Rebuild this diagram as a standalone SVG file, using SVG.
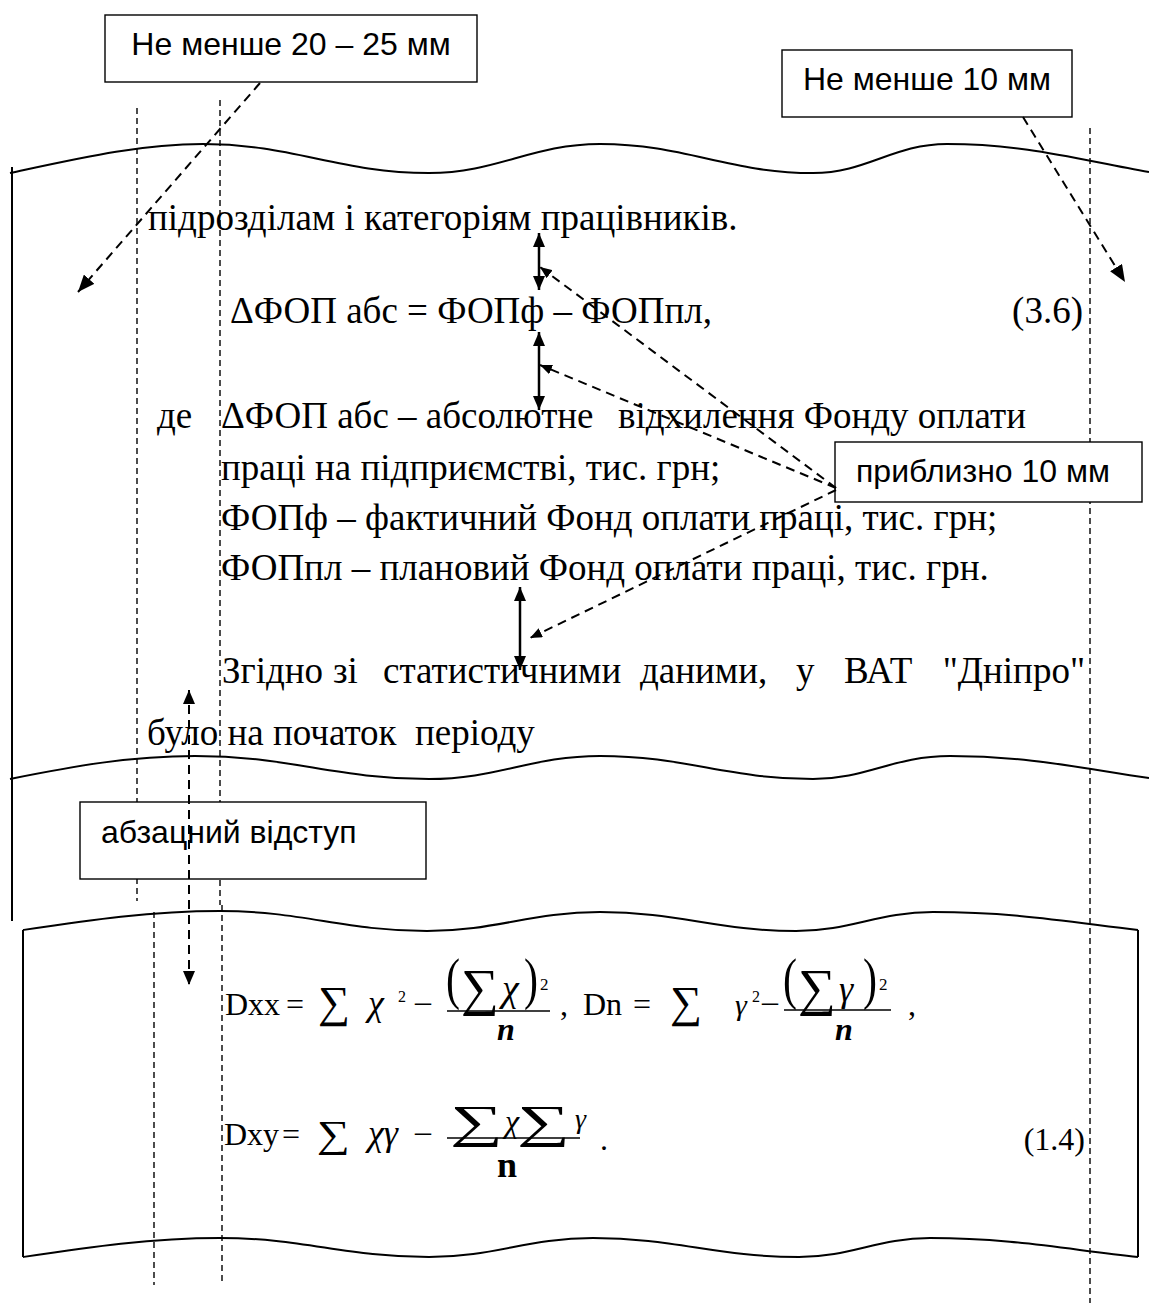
<svg xmlns="http://www.w3.org/2000/svg" width="1149" height="1308" viewBox="0 0 1149 1308">
<style>
.bg{fill:#fff}
.wave{fill:none;stroke:#000;stroke-width:2}
.edge{fill:none;stroke:#000;stroke-width:2}
.margin{fill:none;stroke:#000;stroke-width:1.4;stroke-dasharray:6 4}
.box{fill:#fff;stroke:#000;stroke-width:1.4}
.lbl{font-family:"Liberation Sans",Arial,sans-serif;font-size:32px;fill:#000}
.body{font-family:"Liberation Serif","Times New Roman",serif;font-size:37px;fill:#000}
.f{font-family:"Liberation Serif","Times New Roman",serif;fill:#000}
.it{font-style:italic}
.bd{font-weight:bold}
.dash{fill:none;stroke:#000;stroke-width:2;stroke-dasharray:9 6}
.solid{fill:none;stroke:#000;stroke-width:2.5}
.bar{stroke:#000;stroke-width:1.5}
</style>
<defs>
<marker id="ah" viewBox="0 0 14 12" refX="14" refY="6" markerWidth="14" markerHeight="12" markerUnits="userSpaceOnUse" orient="auto-start-reverse"><path d="M0,0 L14,6 L0,12 z" fill="#000"/></marker>
<marker id="ahs" viewBox="0 0 12 10" refX="12" refY="5" markerWidth="12" markerHeight="10" markerUnits="userSpaceOnUse" orient="auto-start-reverse"><path d="M0,0 L12,5 L0,10 z" fill="#000"/></marker>
<marker id="ahb" viewBox="0 0 17 14" refX="17" refY="7" markerWidth="17" markerHeight="14" markerUnits="userSpaceOnUse" orient="auto"><path d="M0,0 L17,7 L0,14 z" fill="#000"/></marker>
</defs>
<rect class="bg" x="0" y="0" width="1149" height="1308"/>

<g id="page-fragment-1">
<path class="wave" d="M10,173 C80,158 140,144 203,144 C293,144 339,173 429,173 C497,173 532,144 600,144 C685,144 728,173 813,173 C867,173 893,144 947,144 C1027,144 1080,160 1149,172"/>
<path class="wave" d="M10,779 C75,766 130,756 195,756 C290,756 335,779 429,779 C497,779 532,756 600,756 C685,756 728,779 813,779 C867,779 893,756 950,756 C1030,756 1085,769 1149,778"/>
<line class="edge" x1="12" y1="167" x2="12" y2="921"/>
</g>

<g id="page-fragment-2">
<path class="wave" d="M23,930 C90,920 150,911 220,911 C303,911 344,931 427,931 C496,931 531,912 600,912 C678,912 718,931 796,931 C851,931 878,912 933,912 C1015,912 1070,922 1138,930"/>
<path class="wave" d="M23,1257 C90,1247 150,1238 220,1238 C304,1238 345,1257 429,1257 C495,1257 527,1238 593,1238 C675,1238 717,1257 799,1257 C851,1257 878,1238 930,1238 C1013,1238 1070,1250 1138,1257"/>
<line class="edge" x1="23" y1="930" x2="23" y2="1257"/>
<line class="edge" x1="1138" y1="930" x2="1138" y2="1257"/>
</g>

<g id="margins">
<line class="margin" x1="137" y1="108" x2="137" y2="901"/>
<line class="margin" x1="154" y1="912" x2="154" y2="1285"/>
<line class="margin" x1="220" y1="100" x2="220" y2="905"/>
<line class="margin" x1="222" y1="905" x2="222" y2="1285"/>
<line class="margin" x1="1090" y1="128" x2="1090" y2="1303"/>
</g>

<g id="body-text">
<text class="body" x="148" y="230">підрозділам і категоріям працівників.</text>
<text class="body" x="230" y="323">ΔФОП абс = ФОПф – ФОПпл,</text>
<text class="body" x="1083" y="323" text-anchor="end">(3.6)</text>
<text class="body" x="157" y="428">де</text>
<text class="body" x="221" y="428">ΔФОП абс – абсолютне</text>
<text class="body" x="1026" y="428" text-anchor="end">відхилення Фонду оплати</text>
<text class="body" x="221" y="480">праці на підприємстві, тис. грн;</text>
<text class="body" x="221" y="530">ФОПф – фактичний Фонд оплати праці, тис. грн;</text>
<text class="body" x="221" y="580">ФОПпл – плановий Фонд оплати праці, тис. грн.</text>
<text class="body" x="222" y="683">Згідно</text>
<text class="body" x="333" y="683">зі</text>
<text class="body" x="383" y="683">статистичними</text>
<text class="body" x="640" y="683">даними,</text>
<text class="body" x="796" y="683">у</text>
<text class="body" x="844" y="683">ВАТ</text>
<text class="body" x="1085" y="683" text-anchor="end">"Дніпро"</text>
<text class="body" x="147" y="745">було на початок</text>
<text class="body" x="415" y="745">періоду</text>
</g>

<g id="formulas">
<text class="f" x="225" y="1015" style="font-size:32px">Dxx</text>
<text class="f" x="286" y="1015" style="font-size:32px">=</text>
<text class="f" x="318" y="1017" style="font-size:44px" textLength="32" lengthAdjust="spacingAndGlyphs">∑</text>
<text class="f it" x="368" y="1015" style="font-size:36px">χ</text>
<text class="f" x="398" y="1002" style="font-size:16px">2</text>
<text class="f" x="415" y="1012" style="font-size:32px">–</text>
<text class="f" x="446" y="998" style="font-size:58px" textLength="14" lengthAdjust="spacingAndGlyphs">(</text>
<text class="f" x="461" y="1005" style="font-size:52px" textLength="38" lengthAdjust="spacingAndGlyphs">∑</text>
<text class="f it" x="502" y="1001" style="font-size:38px">χ</text>
<text class="f" x="524" y="998" style="font-size:58px" textLength="14" lengthAdjust="spacingAndGlyphs">)</text>
<text class="f" x="540" y="990" style="font-size:17px">2</text>
<line class="bar" x1="447" y1="1011" x2="550" y2="1011"/>
<text class="f it bd" x="497" y="1040" style="font-size:32px">n</text>
<text class="f" x="560" y="1015" style="font-size:32px">,</text>

<text class="f" x="583" y="1015" style="font-size:32px">Dn</text>
<text class="f" x="633" y="1015" style="font-size:32px">=</text>
<text class="f" x="670" y="1017" style="font-size:44px" textLength="32" lengthAdjust="spacingAndGlyphs">∑</text>
<text class="f it" x="735" y="1015" style="font-size:30px">γ</text>
<text class="f" x="752" y="1002" style="font-size:16px">2</text>
<text class="f" x="762" y="1012" style="font-size:32px">–</text>
<text class="f" x="783" y="998" style="font-size:58px" textLength="14" lengthAdjust="spacingAndGlyphs">(</text>
<text class="f" x="798" y="1005" style="font-size:52px" textLength="38" lengthAdjust="spacingAndGlyphs">∑</text>
<text class="f it" x="839" y="1001" style="font-size:36px">γ</text>
<text class="f" x="863" y="998" style="font-size:58px" textLength="14" lengthAdjust="spacingAndGlyphs">)</text>
<text class="f" x="879" y="990" style="font-size:17px">2</text>
<line class="bar" x1="784" y1="1010" x2="891" y2="1010"/>
<text class="f it bd" x="835" y="1040" style="font-size:32px">n</text>
<text class="f" x="908" y="1015" style="font-size:32px">,</text>

<text class="f" x="224" y="1145" style="font-size:32px">Dxy</text>
<text class="f" x="282" y="1145" style="font-size:32px">=</text>
<text class="f" x="317" y="1147" style="font-size:38px" textLength="33" lengthAdjust="spacingAndGlyphs">∑</text>
<text class="f it" x="368" y="1145" style="font-size:36px">χγ</text>
<text class="f" x="415" y="1142" style="font-size:32px">–</text>
<text class="f" x="450" y="1137" style="font-size:46px" textLength="53" lengthAdjust="spacingAndGlyphs">∑</text>
<text class="f it" x="505" y="1132" style="font-size:32px">χ</text>
<text class="f" x="517" y="1137" style="font-size:46px" textLength="53" lengthAdjust="spacingAndGlyphs">∑</text>
<text class="f it" x="575" y="1128" style="font-size:28px">γ</text>
<line class="bar" x1="447" y1="1138" x2="580" y2="1138"/>
<text class="f bd" x="497" y="1177" style="font-size:36px">n</text>
<text class="f" x="600" y="1150" style="font-size:32px">.</text>
<text class="f" x="1085" y="1150" text-anchor="end" style="font-size:32px">(1.4)</text>
</g>

<g id="node-margin-left">
<rect class="box" x="105" y="15" width="372" height="67"/>
<text class="lbl" x="291" y="55" text-anchor="middle">Не менше 20 – 25 мм</text>
</g>
<g id="node-margin-right">
<rect class="box" x="782" y="50" width="290" height="67"/>
<text class="lbl" x="927" y="90" text-anchor="middle">Не менше 10 мм</text>
</g>
<g id="node-spacing">
<rect class="box" x="835" y="442" width="307" height="60"/>
<text class="lbl" x="983" y="482" text-anchor="middle">приблизно 10 мм</text>
</g>
<g id="node-indent">
<rect class="box" x="80" y="802" width="346" height="77"/>
<text class="lbl" x="101" y="843">абзацний відступ</text>
</g>

<g id="connectors">
<line class="dash" x1="260" y1="83" x2="78" y2="292" marker-end="url(#ahb)"/>
<line class="dash" x1="1023" y1="117" x2="1125" y2="282" marker-end="url(#ahb)"/>
<line class="solid" x1="539" y1="233" x2="539" y2="290" marker-start="url(#ah)" marker-end="url(#ah)"/>
<line class="solid" x1="539" y1="332" x2="539" y2="410" marker-start="url(#ah)" marker-end="url(#ah)"/>
<line class="solid" x1="520" y1="587" x2="520" y2="670" marker-start="url(#ah)" marker-end="url(#ah)"/>
<line class="dash" x1="836" y1="488" x2="540" y2="267" marker-end="url(#ahs)"/>
<line class="dash" x1="836" y1="488" x2="540" y2="365" marker-end="url(#ahs)"/>
<line class="dash" x1="836" y1="490" x2="530" y2="638" marker-end="url(#ahs)"/>
<line class="dash" x1="189" y1="690" x2="189" y2="985" marker-start="url(#ah)" marker-end="url(#ah)"/>
</g>
</svg>
